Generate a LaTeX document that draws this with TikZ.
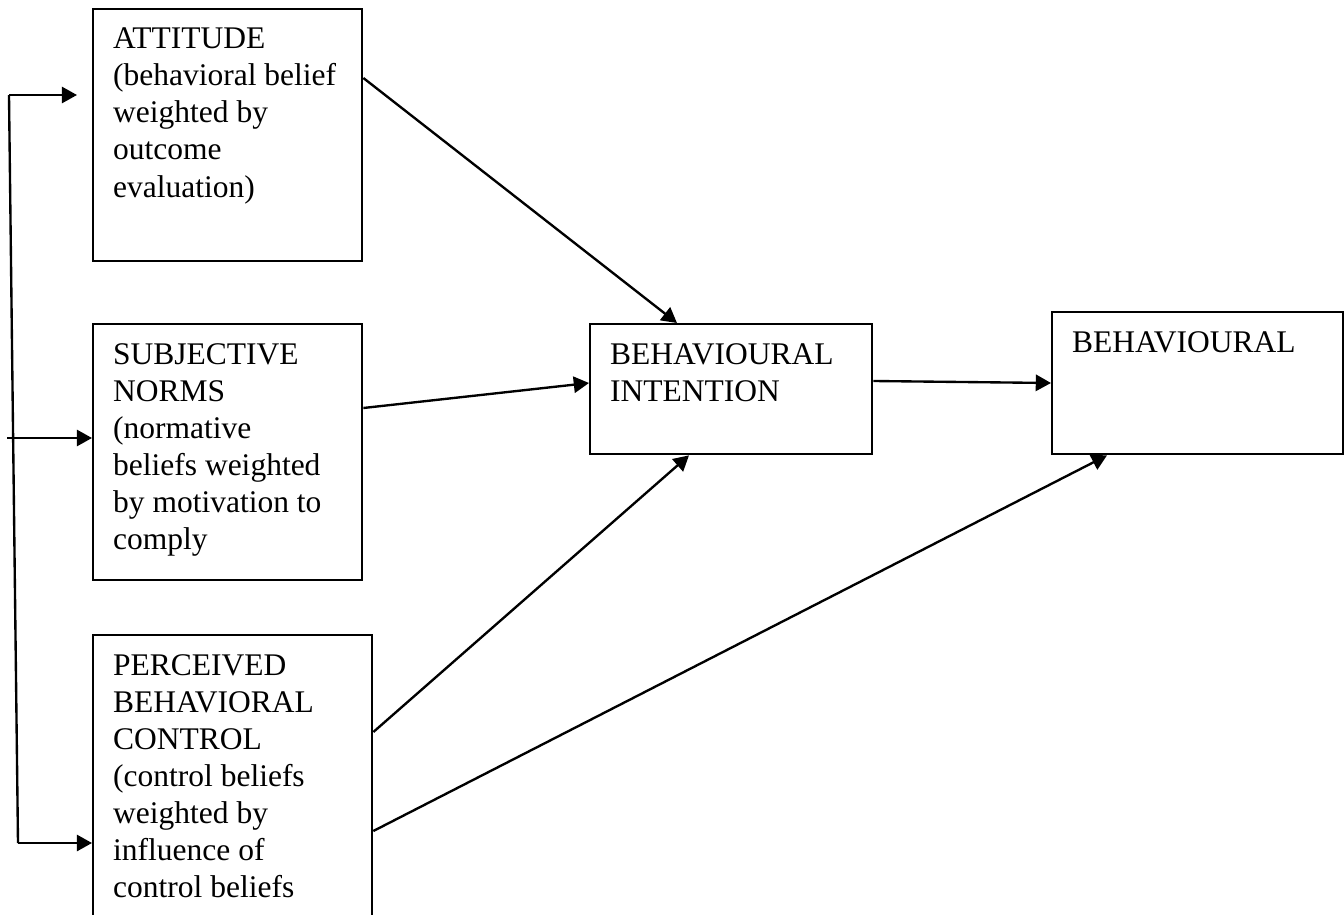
\documentclass[tikz,border=0pt]{standalone}
\usepackage{fontspec}
\setmainfont{Liberation Serif}
\usetikzlibrary{arrows.meta,calc}

\newdimen\px \px=0.381pt
\newcommand{\boxtext}[3]{\parbox[c][#2\px][t]{#1\px}{\raggedright #3}}

\begin{document}
\begin{tikzpicture}
[x=\px,y=-\px,
  boxdecorate/.style={shape=rectangle,draw,line width=0.9pt,inner xsep=20\px,inner ysep=19\px,
    font=\fontsize{12}{14.1}\selectfont},%
  arrowdecorate/.style={-{Triangle[length=5.8pt,width=6.2pt]},line width=0.9pt},
  linedecorate/.style={-,line width=0.9pt}]
\useasboundingbox (0,0) rectangle (1344,915);
\clip (0,0) rectangle (1344,915);
%% boxes
\foreach \nodename/\x/\y/\w/\h/\txt in {
  %% left column
  att/92/8/229/214/{ATTITUDE\\(behavioral belief\\weighted by\\outcome\\evaluation)},
  sn/92/323/229/218/{SUBJECTIVE\\NORMS\\(normative\\beliefs weighted\\by motivation to\\comply},
  pbc/92/634/239/262/{PERCEIVED\\BEHAVIORAL\\CONTROL\\(control beliefs\\weighted by\\influence of\\control beliefs},
  %% right side
  bi/589/323/242/92/{BEHAVIOURAL\\INTENTION},
  beh/1051/311/251/104/{BEHAVIOURAL}}
{
  \node (\nodename) at (\x,\y) [boxdecorate,anchor=north west] {\boxtext{\w}{\h}{\txt}};
}
%% feedback line on the left
\coordinate (fbtop) at (9,95);
\coordinate (fbmid) at (7,438);
\coordinate (fbbot) at (18,843);
\draw[linedecorate] (fbtop) -- (fbbot);
\draw[arrowdecorate] (fbtop) -- ($(att.north west)+(-15,87)$);
\draw[arrowdecorate] (fbmid) -- ($(sn.north west)+(0,115)$);
\draw[arrowdecorate] (fbbot) -- ($(pbc.north west)+(0,209)$);
%% edges
\draw[arrowdecorate] ($(att.north east)+(0,70)$) -- ($(bi.north west)+(88,0)$);
\draw[arrowdecorate] ($(sn.north east)+(0,85)$) -- ($(bi.north west)+(0,60)$);
\draw[arrowdecorate] ($(pbc.north east)+(0,98)$) -- ($(bi.south west)+(100,0)$);
\draw[arrowdecorate] ($(pbc.north east)+(0,197)$) -- ($(beh.south west)+(56,0)$);
\draw[arrowdecorate] ($(bi.north east)+(0,58)$) -- ($(beh.north west)+(0,72)$);
\end{tikzpicture}
\end{document}
